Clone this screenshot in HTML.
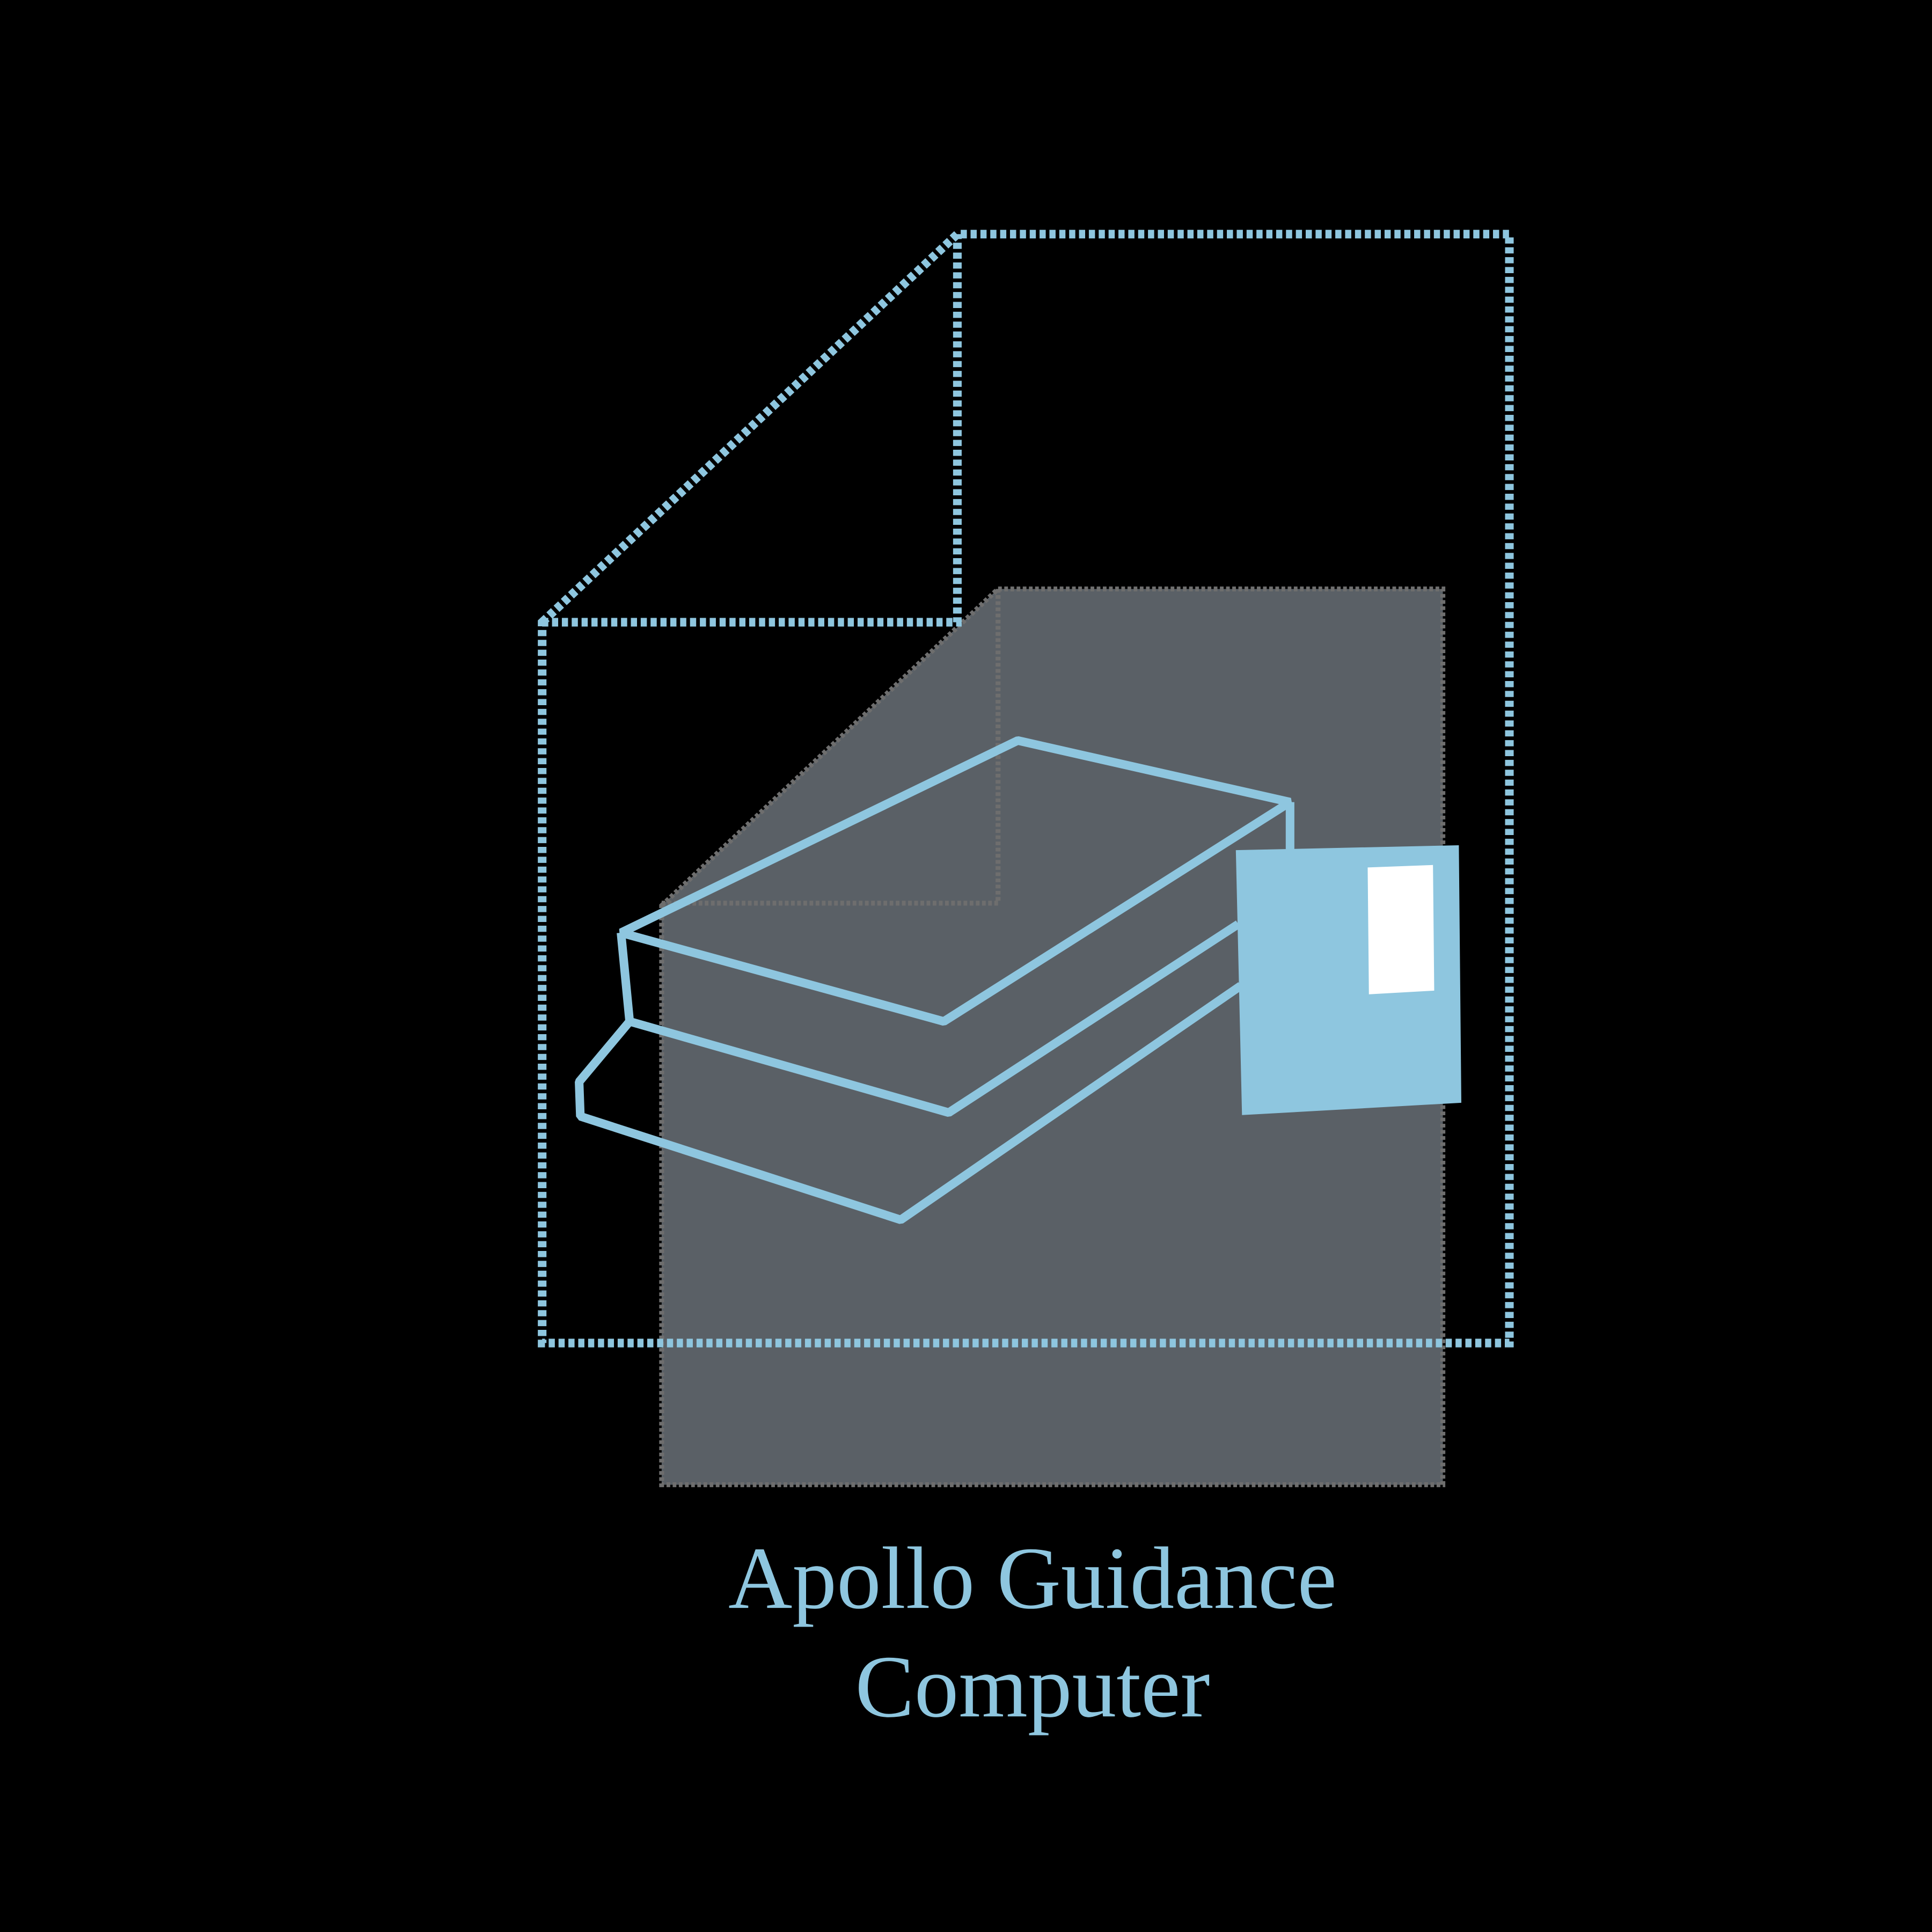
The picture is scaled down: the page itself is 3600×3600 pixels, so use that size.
<!DOCTYPE html>
<html><head><style>html,body{margin:0;padding:0;background:#000;}svg{display:block}</style></head>
<body>
<svg width="3600" height="3600" viewBox="0 0 1568 1568" xmlns="http://www.w3.org/2000/svg">
<rect width="1568" height="1568" fill="#000"/>
<polygon points="537,735 810,478 1171,478 1171,1205 537,1205" fill="#5a6066" stroke="#6e6e6e" stroke-width="4" stroke-dasharray="3 2"/>
<polyline points="537,733 810,733 810,478" fill="none" stroke="#6e6e6e" stroke-width="4" stroke-dasharray="3 2"/>
<g fill="none" stroke="#8ec6df" stroke-width="7" stroke-dasharray="5 3">
<polygon points="440,505 777,190 1225,190 1225,1090 440,1090"/>
<polyline points="440,505 777,505 777,190"/>
</g>
<g fill="none" stroke="#8ec6df" stroke-width="7" stroke-linejoin="bevel">
<polygon points="504,757 826,601 1047,651 766,829"/>
<line x1="1047" y1="651" x2="1047" y2="692"/>
<polyline points="504,757 511,829 770,903 1005,750"/>
<polyline points="511,829 470,878 471,906 731,990 1007,800"/>
</g>
<polygon points="1003,690 1184,686 1186,895 1008,905" fill="#8ec6df"/>
<polygon points="1110,704 1163,702 1164,804 1111,807" fill="#fff"/>
<g fill="#8ec6df" font-family="Liberation Serif, serif" font-size="72" text-anchor="middle">
<text x="838" y="1305">Apollo Guidance</text>
<text x="838" y="1393">Computer</text>
</g>
</svg>
</body></html>
